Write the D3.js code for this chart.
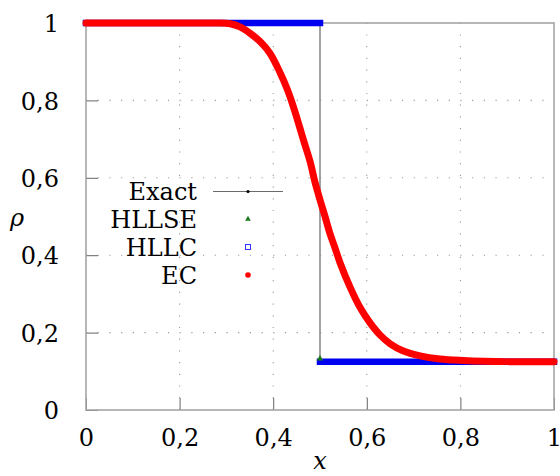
<!DOCTYPE html>
<html><head><meta charset="utf-8">
<script src="https://cdn.jsdelivr.net/npm/d3@7"></script>
<style>body{margin:0;background:#fff}svg{display:block}text{font-family:"DejaVu Serif","Liberation Serif","Noto Serif",serif}</style>
</head><body>
<svg id="c" width="560" height="476"></svg>
<script>
// ---- data ----
const xTicks = [0, 0.2, 0.4, 0.6, 0.8, 1];
const xTickLabels = ["0", "0,2", "0,4", "0,6", "0,8", "1"];
const yTicks = [0, 0.2, 0.4, 0.6, 0.8, 1];
const yTickLabels = ["0", "0,2", "0,4", "0,6", "0,8", "1"];
const seriesNames = ["Exact", "HLLSE", "HLLC", "EC"];
// Exact solution (step)
const exactX = [0, 0.5, 0.5, 1];
const exactY = [1, 1, 0.125, 0.125];
// HLLSE / HLLC: sharp step (null = gap at the jump)
const hllseX = [0, 0.5, 0.5, 0.5, 1];
const hllseY = [1, 1, null, 0.125, 0.125];
const hllcX = [0, 0.5, 0.5, 0.5, 1];
const hllcY = [1, 1, null, 0.125, 0.125];
// EC: smeared profile
const ecX = [0, 0.1, 0.2, 0.28, 0.308, 0.329, 0.350, 0.372, 0.393, 0.415, 0.429, 0.442, 0.457, 0.464, 0.479, 0.489, 0.500, 0.511, 0.521, 0.532, 0.543, 0.564, 0.585, 0.607, 0.628, 0.650, 0.677, 0.714, 0.756, 0.806, 0.85, 0.9, 0.95, 1];
const ecY = [1, 1, 1, 1, 0.998, 0.990, 0.974, 0.952, 0.922, 0.871, 0.832, 0.788, 0.729, 0.700, 0.641, 0.590, 0.543, 0.499, 0.457, 0.419, 0.380, 0.318, 0.266, 0.225, 0.194, 0.171, 0.153, 0.140, 0.132, 0.128, 0.126, 0.125, 0.125, 0.125];

// ---- chart ----
const svg = d3.select("#c");
const FS = "24px";
const x = d3.scaleLinear().domain([0, 1]).range([86, 554]);
const y = d3.scaleLinear().domain([0, 1]).range([410, 23]);

// grid
const grid = svg.append("g").attr("stroke", "#9a9a9a").attr("stroke-width", 1.1).attr("stroke-dasharray", "1.2,10.5");
grid.selectAll("line.gx").data(xTicks.slice(1, -1)).join("line")
  .attr("x1", d => x(d)).attr("x2", d => x(d)).attr("y1", y(0)).attr("y2", y(1));
grid.selectAll("line.gy").data(yTicks.slice(1, -1)).join("line")
  .attr("x1", x(0)).attr("x2", x(1)).attr("y1", d => y(d)).attr("y2", d => y(d));

// ticks (inside)
const xAxis = d3.axisBottom(x).tickValues(xTicks).tickSize(-12).tickFormat((d, i) => xTickLabels[i]).tickPadding(19);
const yAxis = d3.axisLeft(y).tickValues(yTicks).tickSize(-12).tickFormat((d, i) => yTickLabels[i]).tickPadding(27);
const gx = svg.append("g").attr("transform", `translate(0,${y(0)})`).call(xAxis);
const gy = svg.append("g").attr("transform", `translate(${x(0)},0)`).call(yAxis);
[gx, gy].forEach(g => {
  g.attr("font-family", null).attr("font-size", null);
  g.select(".domain").remove();
  g.selectAll(".tick line").attr("stroke", "#666").attr("stroke-width", 1);
  g.selectAll(".tick text").attr("fill", "#000").style("font-size", FS);
});
gx.selectAll(".tick text").attr("dy", "0.71em");
gy.selectAll(".tick text").attr("dy", "0.36em");

// frame
svg.append("rect").attr("x", x(0)).attr("y", y(1)).attr("width", x(1) - x(0)).attr("height", y(0) - y(1))
  .attr("fill", "none").attr("stroke", "#a5a5a5").attr("stroke-width", 1.6);

// Exact
const lineXY = (xs, ys) => d3.line().defined((d, i) => ys[i] !== null)
  .x((d, i) => x(xs[i])).y((d, i) => y(ys[i]))(xs);
svg.append("path").attr("d", lineXY(exactX, exactY)).attr("fill", "none").attr("stroke", "#8c8c8c").attr("stroke-width", 1.6);

// HLLSE
const tri = d3.symbol().type(d3.symbolTriangle).size(18);
svg.append("path").attr("d", lineXY(hllseX, hllseY)).attr("fill", "none").attr("stroke", "#1a7a1a").attr("stroke-width", 4);

// HLLC band
svg.append("path").attr("d", lineXY(hllcX, hllcY)).attr("fill", "none").attr("stroke", "#0000f0").attr("stroke-width", 6.5).attr("stroke-linecap", "square");
// visible HLLSE marker at the jump foot
svg.append("path").attr("d", tri).attr("transform", `translate(${x(hllseX[3])},${y(hllseY[3]) - 3})`).attr("fill", "#1a7a1a");

// EC curve
svg.append("path").attr("d", d3.line().curve(d3.curveCatmullRom.alpha(0.5)).x((d, i) => x(ecX[i])).y((d, i) => y(ecY[i]))(ecX))
  .attr("fill", "none").attr("stroke", "#ff0000").attr("stroke-width", 7).attr("stroke-linecap", "round").attr("stroke-linejoin", "round");

// axis labels
svg.append("text").attr("x", x(0.5)).attr("y", 469).attr("text-anchor", "middle")
  .style("font-size", FS).style("font-style", "italic").text("x");
svg.append("text").attr("x", 17).attr("y", 226).attr("text-anchor", "middle")
  .style("font-size", FS).style("font-style", "italic").text("ρ");

// legend
const leg = svg.append("g");
const legY = [191.5, 219, 247, 275];
seriesNames.forEach((n, i) => {
  leg.append("text").attr("x", 197).attr("y", legY[i]).attr("dy", "0.36em").attr("text-anchor", "end")
    .style("font-size", FS).text(n);
});
leg.append("line").attr("x1", 213).attr("x2", 283).attr("y1", legY[0]).attr("y2", legY[0]).attr("stroke", "#6a6a6a").attr("stroke-width", 1.1);
leg.append("circle").attr("cx", 248).attr("cy", legY[0]).attr("r", 1.6).attr("fill", "#000");
leg.append("path").attr("d", d3.symbol().type(d3.symbolTriangle).size(14)).attr("transform", `translate(248,${legY[1]})`).attr("fill", "#1a7a1a");
leg.append("rect").attr("x", 245.5).attr("y", legY[2] - 2.5).attr("width", 5).attr("height", 5).attr("fill", "none").attr("stroke", "#3333ff").attr("stroke-width", 1);
leg.append("circle").attr("cx", 248).attr("cy", legY[3]).attr("r", 2.8).attr("fill", "#ff0000");
</script>
</body></html>
